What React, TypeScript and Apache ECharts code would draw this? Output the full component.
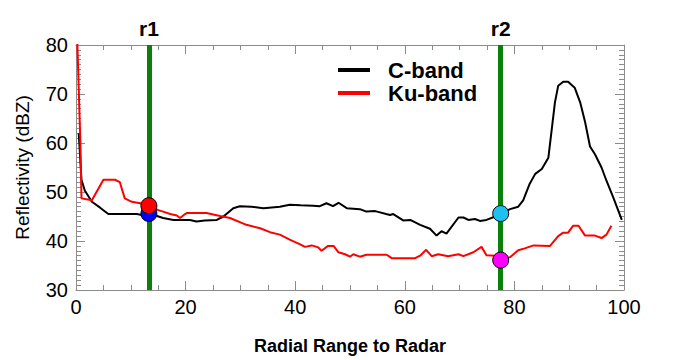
import React, { useEffect, useRef } from "react";
import * as echarts from "echarts";

// C-band reflectivity profile [range, dBZ]
const cBand: [number, number][] = [
  [0.5, 62], [1, 52.5], [1.6, 50.3], [2.9, 48], [4.4, 46.8], [5.9, 45.5], [11.1, 45.5], [12, 45.3],
  [13.3, 45.6], [14.5, 45.2], [15.9, 44.7], [17.8, 44.3], [20.8, 44.3], [22, 44], [23.5, 44.2],
  [25.7, 44.3], [26.9, 45], [28.7, 46.7], [29.9, 47.1], [32, 47], [34.2, 46.7], [37.2, 47],
  [39, 47.4], [41, 47.3], [43.3, 47.2], [44.5, 47.1], [45.7, 47.7], [46.9, 47.1], [47.9, 47.8],
  [49.4, 46.7], [51.8, 46.5], [53, 46], [54.6, 46.1], [57.3, 45.3], [57.9, 45.5], [59.7, 44.2],
  [61, 44.3], [62.8, 43.3], [64.6, 42.5], [65.8, 41.1], [66.7, 42], [67.6, 41.5], [69.8, 44.8],
  [70.7, 44.8], [71.6, 44.3], [72.8, 44.5], [73.7, 44.1], [74.9, 44.3], [76.5, 45], [77.5, 45.5],
  [79.2, 46.5], [80.7, 47], [81.6, 48.3], [82.8, 51.7], [83.8, 53.7], [85, 54.7], [86.2, 57],
  [87.4, 68.3], [88, 71.7], [88.9, 72.5], [89.8, 72.5], [91, 71.3], [92, 68.3], [92.9, 64.3],
  [93.8, 59.3], [94.7, 57.7], [95.9, 55], [96.8, 52.3], [98, 49], [99.6, 44.3],
];

// Ku-band reflectivity profile [range, dBZ]
const kuBand: [number, number][] = [
  [0.2, 82], [0.8, 60], [1, 48.7], [2.9, 48.3], [5, 52.5], [7.1, 52.5], [8, 52], [8.9, 48.7],
  [10.2, 48], [11.7, 47.7], [13.3, 47.2], [15, 46.3], [15.9, 46], [17.2, 45.5], [18.4, 45.2],
  [19, 44.7], [19.9, 45.5], [20.2, 45.7], [23.8, 45.7], [26.3, 45.1], [28.1, 44.7], [31.1, 43.3],
  [33.6, 42.6], [35.4, 41.8], [37.2, 41.3], [39, 40.3], [40.9, 39.3], [41.8, 38.8], [43, 39.1],
  [44.2, 38.7], [44.8, 38], [46, 39], [47, 39], [47.9, 37.7], [49.1, 37.3], [50, 36.8],
  [50.6, 37.3], [51.8, 36.8], [53, 37.2], [56.7, 37.2], [57.6, 36.5], [61.9, 36.5], [62.8, 37],
  [63.9, 38.2], [64.9, 36.9], [66.1, 37.3], [67.9, 36.9], [69.8, 37.3], [70.7, 36.9], [72.5, 37.7],
  [74, 38.8], [74.9, 37.1], [76.5, 37], [77.5, 36.1], [79.2, 36.7], [80.7, 38.1], [81.9, 38.5],
  [83.5, 39.1], [86.5, 39], [88, 41], [88.9, 41.7], [89.8, 41.7], [90.7, 43.1], [91.7, 43.1],
  [92.9, 41.1], [94.7, 41.1], [95.9, 40.6], [96.8, 41.3], [97.7, 43.1],
];

const rangeMarks = [13.3, 77.5];
const rangeLabels = ["r1", "r2"];

// marker points at r1 / r2
const markerPoints: [number, number][] = [[13.3, 45.6], [13.3, 47.2], [77.5, 45.6], [77.5, 36.1]];
const markerColors = ["#0000ff", "#ff0000", "#1ec0f0", "#ff00ff"];

const FONT = "'Liberation Sans', Arial, Helvetica, sans-serif";
const AXIS_GRAY = "#8c8c8c";

export default function App() {
  const ref = useRef<HTMLDivElement>(null);
  useEffect(() => {
    if (!ref.current) return;
    const chart = echarts.init(ref.current, undefined, { renderer: "svg" });
    const baseAxis = {
      axisLine: { show: true, onZero: false, lineStyle: { color: AXIS_GRAY, width: 1 } },
      axisTick: { show: true, inside: true, length: 9, lineStyle: { color: AXIS_GRAY } },
      splitLine: { show: false },
    };
    chart.setOption({
      animation: false,
      backgroundColor: "#ffffff",
      textStyle: { fontFamily: FONT },
      grid: { left: 76, right: 52, top: 45, bottom: 65, containLabel: false },
      legend: {
        orient: "vertical",
        left: 333,
        top: 54,
        itemGap: 1,
        itemWidth: 32,
        itemHeight: 4,
        icon: "rect",
        data: ["C-band", "Ku-band"],
        textStyle: { fontSize: 22, fontWeight: "bold", color: "#000", fontFamily: FONT, padding: [0, 0, 0, 13] },
      },
      xAxis: [
        {
          ...baseAxis,
          type: "value",
          min: 0,
          max: 100,
          interval: 20,
          position: "bottom",
          minorTick: { show: true, splitNumber: 4, length: 5, lineStyle: { color: AXIS_GRAY } },
          axisLabel: { fontSize: 20, color: "#000", margin: 7, fontFamily: FONT },
          name: "Radial Range to Radar",
          nameLocation: "middle",
          nameGap: 47,
          nameTextStyle: { fontSize: 18, fontWeight: "bold", color: "#000", fontFamily: FONT },
        },
        {
          ...baseAxis,
          type: "value",
          min: 0,
          max: 100,
          interval: 20,
          position: "top",
          minorTick: { show: true, splitNumber: 4, length: 5, lineStyle: { color: AXIS_GRAY } },
          axisLabel: { show: false },
        },
      ],
      yAxis: [
        {
          ...baseAxis,
          type: "value",
          min: 30,
          max: 80,
          interval: 10,
          position: "left",
          minorTick: { show: true, splitNumber: 10, length: 5, lineStyle: { color: AXIS_GRAY } },
          axisLabel: { fontSize: 20, color: "#000", margin: 8, fontFamily: FONT },
          name: "Reflectivity (dBZ)",
          nameLocation: "middle",
          nameGap: 44,
          nameTextStyle: { fontSize: 19, color: "#000", fontFamily: FONT },
        },
        {
          ...baseAxis,
          type: "value",
          min: 30,
          max: 80,
          interval: 10,
          position: "right",
          minorTick: { show: true, splitNumber: 10, length: 5, lineStyle: { color: AXIS_GRAY } },
          axisLabel: { show: false },
        },
      ],
      series: [
        {
          name: "C-band",
          type: "line",
          data: cBand,
          showSymbol: false,
          symbol: "none",
          color: "#000000",
          lineStyle: { color: "#000000", width: 2 },
          clip: true,
          z: 2,
        },
        {
          name: "Ku-band",
          type: "line",
          data: kuBand,
          showSymbol: false,
          symbol: "none",
          color: "#ff0000",
          lineStyle: { color: "#ff0000", width: 2 },
          clip: true,
          z: 3,
        },
        {
          type: "scatter",
          data: [],
          z: 4,
          markLine: {
            silent: true,
            symbol: ["none", "none"],
            lineStyle: { color: "#0a800a", width: 5, type: "solid" },
            label: {
              show: true,
              position: "end",
              distance: 6,
              fontSize: 21,
              fontWeight: "bold",
              color: "#000",
              fontFamily: FONT,
            },
            data: rangeMarks.map((x, i) => ({ xAxis: x, label: { formatter: rangeLabels[i] } })),
          },
        },
        {
          type: "scatter",
          z: 5,
          symbolSize: 16,
          data: markerPoints.map((p, i) => ({
            value: p,
            itemStyle: { color: markerColors[i], borderColor: "#000", borderWidth: 1, opacity: 1 },
          })),
        },
      ],
    });
    return () => chart.dispose();
  }, []);
  return (
    <div
      ref={ref}
      style={{ position: "fixed", left: 0, top: 0, width: 676, height: 360, background: "#fff" }}
    />
  );
}
